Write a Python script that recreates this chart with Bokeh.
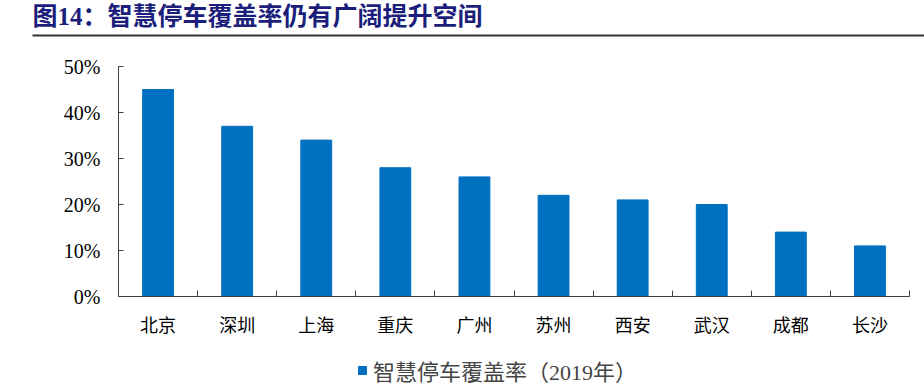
from bokeh.plotting import figure
from bokeh.models import (Range1d, FixedTicker, NumeralTickFormatter,
                          Legend, LegendItem, Label, BoxAnnotation, ColumnDataSource)
from bokeh.embed import file_html
from bokeh.resources import INLINE

title_text = "图14：智慧停车覆盖率仍有广阔提升空间"
cities = ["北京", "深圳", "上海", "重庆", "广州", "苏州", "西安", "武汉", "成都", "长沙"]
rates = [0.45, 0.37, 0.34, 0.28, 0.26, 0.22, 0.21, 0.20, 0.14, 0.11]
series_name = "智慧停车覆盖率（2019年）"
y_ticks = [0, 0.1, 0.2, 0.3, 0.4, 0.5]

SERIF_CJK = "Liberation Serif, Noto Sans CJK SC"
AXIS_COLOR = "#404040"

W, H = 924, 390
# plot area in canvas pixels
PX_LEFT, PX_RIGHT, PX_TOP, PX_BOTTOM = 118, 909, 66, 296
n = len(cities)
ppx = (PX_RIGHT - PX_LEFT) / n            # pixels per category
ppy = (PX_BOTTOM - PX_TOP) / 0.5          # pixels per unit of rate

centers = [i + 0.5 for i in range(n)]
bounds = [i for i in range(n + 1)]

src = ColumnDataSource(dict(x=centers, city=cities, rate=rates))
p = figure(width=W, height=H,
           x_range=Range1d(-PX_LEFT / ppx, (W - PX_LEFT) / ppx),
           y_range=Range1d(-(H - PX_BOTTOM) / ppy, PX_BOTTOM / ppy),
           toolbar_location=None, output_backend="svg",
           min_border=0, outline_line_color=None)
p.grid.visible = False

r = p.vbar(x="x", top="rate", width=0.39, source=src, fill_color="#0070C0",
           line_color="#0070C0")

# y axis
p.yaxis.fixed_location = 0
p.yaxis.bounds = (0, 0.5)
p.yaxis.ticker = FixedTicker(ticks=y_ticks)
p.yaxis.formatter = NumeralTickFormatter(format="0%")
p.yaxis.major_tick_in = 5
p.yaxis.major_tick_out = 0
p.yaxis.minor_tick_line_color = None
p.yaxis.major_tick_line_color = AXIS_COLOR
p.yaxis.major_label_standoff = 18
p.yaxis.major_label_text_font = "Liberation Serif"
p.yaxis.major_label_text_font_size = "20px"

# x axis: labels at category centres, small ticks at category boundaries
p.xaxis.fixed_location = 0
p.xaxis.bounds = (0, n)
p.xaxis.ticker = FixedTicker(ticks=centers, minor_ticks=bounds)
p.xaxis.major_label_overrides = {c: name for c, name in zip(centers, cities)}
p.xaxis.major_tick_line_color = None
p.xaxis.minor_tick_line_color = AXIS_COLOR
p.xaxis.minor_tick_in = 6
p.xaxis.minor_tick_out = 0
p.xaxis.major_label_standoff = 13
p.xaxis.major_label_text_font = SERIF_CJK
p.xaxis.major_label_text_font_size = "18px"

for ax in (p.xaxis, p.yaxis):
    ax.axis_line_color = AXIS_COLOR
    ax.major_label_text_color = "#000000"

# title and rule
p.add_layout(Label(x=32, y=H - 16, x_units="screen", y_units="screen", text=title_text,
                   text_font=SERIF_CJK, text_font_size="25px", text_font_style="bold",
                   text_color="#1B1F7B", text_baseline="middle"))
p.add_layout(BoxAnnotation(left=32, right=W, bottom=H - 36, top=H - 34,
                           left_units="screen", right_units="screen",
                           bottom_units="screen", top_units="screen",
                           fill_color="#333333", fill_alpha=1, line_color=None))

legend = Legend(items=[LegendItem(label=series_name, renderers=[r])],
                location=(357, 4), orientation="horizontal",
                glyph_width=10, glyph_height=10, label_standoff=6,
                label_text_font=SERIF_CJK, label_text_font_size="22px",
                border_line_color=None, background_fill_color=None,
                padding=0, margin=0)
p.add_layout(legend, "center")

open("out.html", "w").write(file_html(p, INLINE))
